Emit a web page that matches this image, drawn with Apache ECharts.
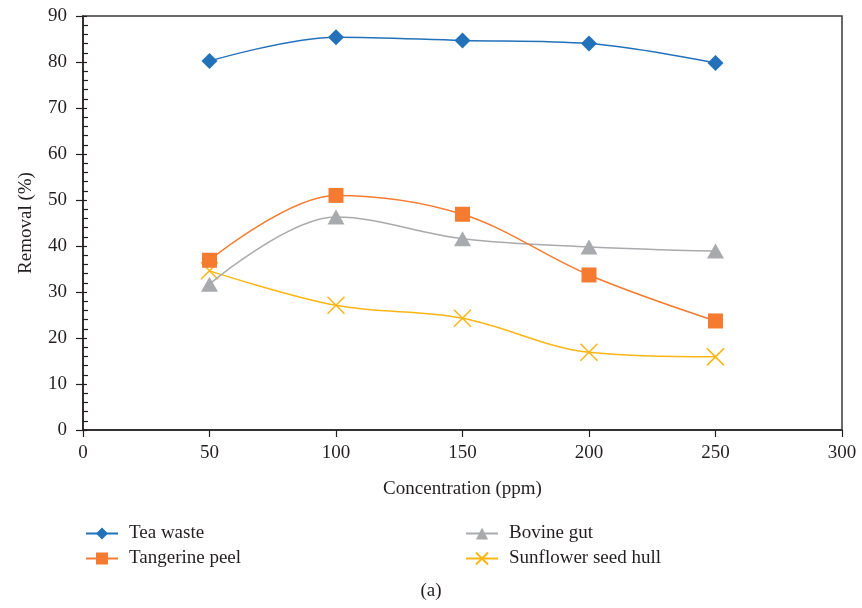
<!DOCTYPE html>
<html>
<head>
<meta charset="utf-8">
<script src="https://cdn.jsdelivr.net/npm/echarts@6/dist/echarts.min.js"></script>
<style>
  html, body { margin: 0; padding: 0; background: #fff; }
  #chart { width: 862px; height: 608px; }
</style>
</head>
<body>
<div id="chart"></div>
<script>
// Removal efficiency of four adsorbents versus initial concentration
const concentrations = [50, 100, 150, 200, 250];
const teaWaste = [80.2, 85.4, 84.7, 84.0, 79.8];
const tangerinePeel = [36.9, 51.0, 46.9, 33.7, 23.7];
const bovineGut = [31.7, 46.3, 41.6, 39.8, 38.9];
const sunflowerSeedHull = [34.6, 27.1, 24.3, 16.9, 15.9];

const seriesNames = ['Tea waste', 'Tangerine peel', 'Bovine gut', 'Sunflower seed hull'];
const seriesColors = ['#2271b9', '#f47b2f', '#a9aaad', '#fdb515'];
const seriesSymbols = [
  'diamond',
  'rect',
  'triangle',
  'path://M0,0L10,10M10,0L0,10'
];
const seriesSizes = [[16, 16], [15, 15], [17, 15], [17, 17]];
const seriesValues = [teaWaste, tangerinePeel, bovineGut, sunflowerSeedHull];

const serif = '"Liberation Serif", "DejaVu Serif", serif';
const textColor = '#231f20';
const axisColor = '#231f20';
const fontSize = 19;

const chart = echarts.init(document.getElementById('chart'));

const series = seriesNames.map((name, i) => {
  const isCross = i === 3;
  return {
    name,
    type: 'line',
    smooth: 0.35,
    data: concentrations.map((c, k) => [c, seriesValues[i][k]]),
    symbol: seriesSymbols[i],
    symbolSize: seriesSizes[i],
    lineStyle: { color: seriesColors[i], width: 1.5 },
    itemStyle: isCross
      ? { color: 'none', borderColor: seriesColors[i], borderWidth: 1.5 }
      : { color: seriesColors[i], borderWidth: 0 },
    emphasis: { disabled: true },
    z: 5 - i
  };
});

const legendBase = {
  orient: 'vertical',
  top: 519,
  itemWidth: 32,
  itemHeight: 15,
  itemGap: 6,
  textStyle: { fontFamily: serif, fontSize: fontSize, color: textColor, padding: [0, 0, 0, 6] }
};

chart.setOption({
  animation: false,
  backgroundColor: '#fff',
  textStyle: { fontFamily: serif, color: textColor },
  title: {
    text: '(a)',
    left: 'center',
    top: 577,
    textStyle: { fontFamily: serif, fontSize: fontSize, fontWeight: 'normal', color: textColor }
  },
  legend: [
    Object.assign({ data: ['Tea waste', 'Tangerine peel'], left: 80 }, legendBase),
    Object.assign({ data: ['Bovine gut', 'Sunflower seed hull'], left: 460 }, legendBase)
  ],
  grid: {
    left: 83,
    right: 20,
    top: 16,
    bottom: 178,
    show: true,
    borderColor: '#3a3a3a',
    borderWidth: 1.5,
    backgroundColor: 'transparent'
  },
  xAxis: {
    type: 'value',
    min: 0,
    max: 300,
    interval: 50,
    name: 'Concentration (ppm)',
    nameLocation: 'middle',
    nameGap: 50,
    nameTextStyle: { fontFamily: serif, fontSize: fontSize, color: textColor },
    axisLine: { show: true, lineStyle: { color: axisColor, width: 1.5 } },
    axisTick: { show: true, length: 7, lineStyle: { color: axisColor, width: 1.2 } },
    axisLabel: { fontFamily: serif, fontSize: fontSize, color: textColor, margin: 14 },
    splitLine: { show: false }
  },
  yAxis: [
    {
      type: 'value',
      min: 0,
      max: 90,
      interval: 10,
      name: 'Removal (%)',
      nameLocation: 'middle',
      nameGap: 47,
      nameTextStyle: { fontFamily: serif, fontSize: fontSize, color: textColor },
      axisLine: { show: true, lineStyle: { color: axisColor, width: 1.5 } },
      axisTick: { show: true, length: 7, lineStyle: { color: axisColor, width: 1.2 } },
      axisLabel: { fontFamily: serif, fontSize: fontSize, color: textColor, margin: 16 },
      splitLine: { show: false }
    },
    {
      // inner ticks: major and minor marks on the plot side of the axis
      type: 'value',
      position: 'left',
      min: 0,
      max: 90,
      interval: 10,
      axisLine: { show: false },
      axisTick: { show: true, inside: true, length: 4, lineStyle: { color: axisColor, width: 1.2 } },
      minorTick: { show: true, splitNumber: 5, length: 5, lineStyle: { color: axisColor, width: 1.2 } },
      axisLabel: { show: false },
      splitLine: { show: false }
    }
  ],
  series
});
</script>
</body>
</html>
